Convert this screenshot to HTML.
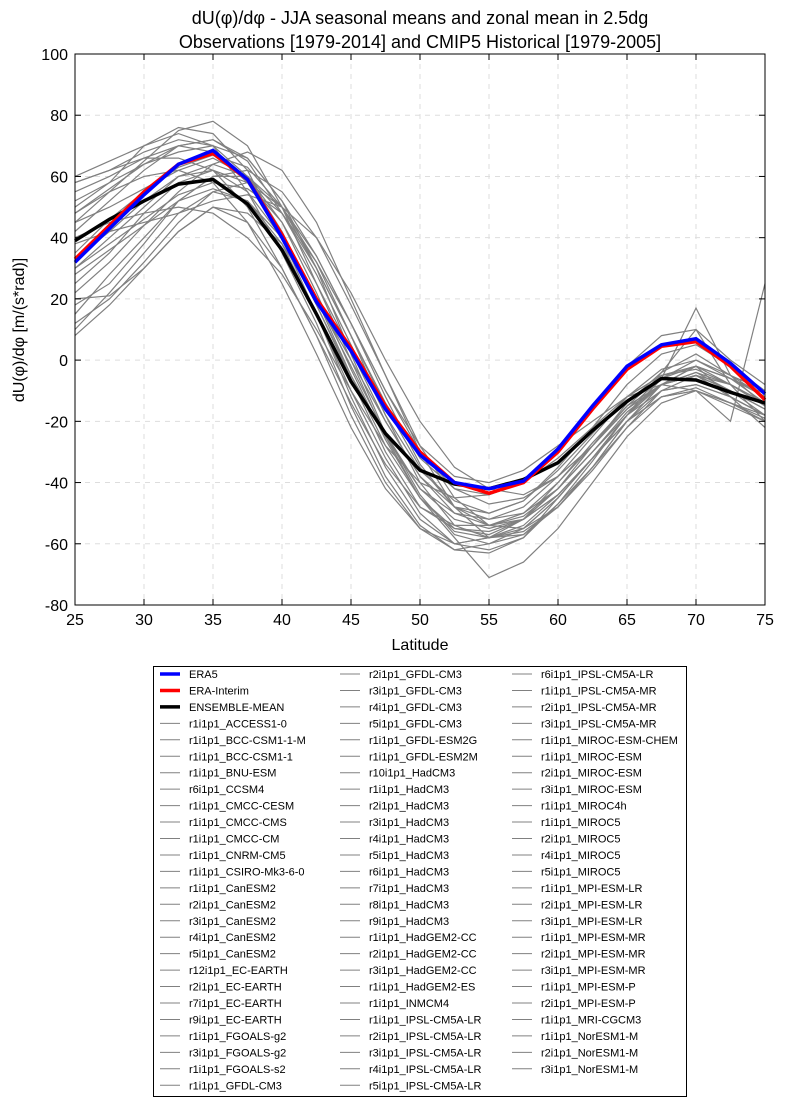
<!DOCTYPE html>
<html><head><meta charset="utf-8">
<style>
body{margin:0;background:#fff;font-family:"Liberation Sans","DejaVu Sans",sans-serif;}
</style></head>
<body>
<svg id="chart" width="785" height="1107" xmlns="http://www.w3.org/2000/svg" font-family="Liberation Sans, DejaVu Sans, sans-serif"></svg>
<script>
const lats=[25,27.5,30,32.5,35,37.5,40,42.5,45,47.5,50,52.5,55,57.5,60,62.5,65,67.5,70,72.5,75];
const era5=[32,43,54,64,68.5,59,40,19,3,-16,-31,-40,-42,-39.5,-29,-15,-2,5,7,-1,-11];
const eraInterim=[33,44,55,64,67.5,59,41,20,4,-15,-30,-40,-43.5,-40,-30,-16,-3,4.5,6,-2,-13];
const ensembleMean=[39,46,52,57.5,59,51,36,15,-7,-24,-36,-40.5,-42,-39,-33.5,-23,-13.5,-6,-6.5,-10.5,-14];
const models=[
[45,55,65,75,78,70,50,25,0,-25,-45,-55,-57,-52,-40,-28,-15,-8,-5,-12,-18],
[10,22,35,48,55,52,38,15,-10,-32,-50,-60,-62,-58,-45,-32,-20,-12,-10,-15,-20],
[58,62,68,72,70,60,42,20,-5,-28,-45,-56,-58,-55,-45,-32,-18,-8,-5,-10,-16],
[30,40,50,60,62,55,40,18,-5,-25,-42,-50,-52,-48,-38,-25,-12,-5,-3,-8,-14],
[20,21,30,42,50,48,38,20,0,-20,-38,-48,-50,-46,-36,-24,-12,-3,0,-5,-10],
[50,58,70,76,74,62,40,15,-12,-35,-52,-60,-58,-52,-42,-30,-18,-10,-8,-12,-18],
[40,45,48,50,48,40,28,10,-10,-28,-40,-45,-44,-40,-32,-22,-12,-5,-2,-6,-12],
[8,18,30,42,50,45,30,8,-18,-40,-55,-62,-63,-58,-47,-35,-22,-12,-9,-14,-19],
[55,60,66,70,68,58,40,18,-6,-30,-48,-55,-56,-52,-42,-28,-14,-4,2,-5,-12],
[35,46,55,63,67,63,50,30,8,-15,-35,-48,-52,-50,-40,-27,-15,-5,-2,-8,-15],
[25,35,48,58,62,58,45,25,3,-20,-38,-50,-54,-51,-42,-30,-17,-8,-5,-10,-16],
[48,55,60,62,58,45,25,2,-22,-42,-55,-60,-58,-54,-44,-32,-20,-10,-8,-12,-18],
[15,28,40,52,60,62,55,40,18,-5,-28,-45,-54,-55,-48,-36,-22,-10,-5,-8,-14],
[42,52,62,70,72,65,48,28,5,-18,-36,-46,-50,-46,-35,-22,-8,2,5,-2,-10],
[30,38,46,54,58,56,48,32,12,-10,-30,-42,-47,-45,-38,-28,-16,-8,-4,-8,-14],
[60,65,70,74,70,55,35,12,-15,-38,-54,-62,-60,-55,-45,-32,-18,-6,0,-6,-14],
[22,32,44,55,64,68,62,45,20,-5,-30,-48,-58,-57,-48,-35,-20,-8,-2,-6,-12],
[38,42,45,48,52,54,50,40,22,0,-20,-35,-42,-44,-38,-28,-16,-6,-2,-6,-11],
[52,58,64,68,70,66,52,30,2,-24,-44,-57,-60,-57,-47,-33,-18,-4,10,-8,-20],
[12,20,32,45,55,58,50,32,8,-18,-40,-54,-58,-56,-48,-35,-20,-8,-4,-10,-18],
[45,50,56,62,66,60,45,22,-3,-26,-45,-58,-71,-66,-55,-40,-25,-14,-10,-14,-20],
[33,42,52,60,64,60,48,30,8,-14,-32,-42,-44,-40,-30,-16,-2,8,10,0,-8],
[48,56,64,70,72,66,52,34,12,-10,-28,-38,-40,-36,-28,-20,-12,-8,-10,-20,25],
[28,36,44,52,56,52,40,20,-2,-24,-42,-52,-55,-52,-44,-32,-20,-12,-10,-14,-18],
[58,62,66,66,62,50,30,8,-14,-34,-48,-54,-54,-50,-42,-30,-18,-8,-2,-12,-22],
[18,25,38,52,60,60,50,34,12,-12,-34,-48,-54,-52,-44,-32,-18,-6,17,-5,-15]
];
const xTicks=[25,30,35,40,45,50,55,60,65,70,75];
const yTicks=[-80,-60,-40,-20,0,20,40,60,80,100];
const legendCol1=["ERA5","ERA-Interim","ENSEMBLE-MEAN","r1i1p1_ACCESS1-0","r1i1p1_BCC-CSM1-1-M","r1i1p1_BCC-CSM1-1","r1i1p1_BNU-ESM","r6i1p1_CCSM4","r1i1p1_CMCC-CESM","r1i1p1_CMCC-CMS","r1i1p1_CMCC-CM","r1i1p1_CNRM-CM5","r1i1p1_CSIRO-Mk3-6-0","r1i1p1_CanESM2","r2i1p1_CanESM2","r3i1p1_CanESM2","r4i1p1_CanESM2","r5i1p1_CanESM2","r12i1p1_EC-EARTH","r2i1p1_EC-EARTH","r7i1p1_EC-EARTH","r9i1p1_EC-EARTH","r1i1p1_FGOALS-g2","r3i1p1_FGOALS-g2","r1i1p1_FGOALS-s2","r1i1p1_GFDL-CM3"];
const legendCol2=["r2i1p1_GFDL-CM3","r3i1p1_GFDL-CM3","r4i1p1_GFDL-CM3","r5i1p1_GFDL-CM3","r1i1p1_GFDL-ESM2G","r1i1p1_GFDL-ESM2M","r10i1p1_HadCM3","r1i1p1_HadCM3","r2i1p1_HadCM3","r3i1p1_HadCM3","r4i1p1_HadCM3","r5i1p1_HadCM3","r6i1p1_HadCM3","r7i1p1_HadCM3","r8i1p1_HadCM3","r9i1p1_HadCM3","r1i1p1_HadGEM2-CC","r2i1p1_HadGEM2-CC","r3i1p1_HadGEM2-CC","r1i1p1_HadGEM2-ES","r1i1p1_INMCM4","r1i1p1_IPSL-CM5A-LR","r2i1p1_IPSL-CM5A-LR","r3i1p1_IPSL-CM5A-LR","r4i1p1_IPSL-CM5A-LR","r5i1p1_IPSL-CM5A-LR"];
const legendCol3=["r6i1p1_IPSL-CM5A-LR","r1i1p1_IPSL-CM5A-MR","r2i1p1_IPSL-CM5A-MR","r3i1p1_IPSL-CM5A-MR","r1i1p1_MIROC-ESM-CHEM","r1i1p1_MIROC-ESM","r2i1p1_MIROC-ESM","r3i1p1_MIROC-ESM","r1i1p1_MIROC4h","r1i1p1_MIROC5","r2i1p1_MIROC5","r4i1p1_MIROC5","r5i1p1_MIROC5","r1i1p1_MPI-ESM-LR","r2i1p1_MPI-ESM-LR","r3i1p1_MPI-ESM-LR","r1i1p1_MPI-ESM-MR","r2i1p1_MPI-ESM-MR","r3i1p1_MPI-ESM-MR","r1i1p1_MPI-ESM-P","r2i1p1_MPI-ESM-P","r1i1p1_MRI-CGCM3","r1i1p1_NorESM1-M","r2i1p1_NorESM1-M","r3i1p1_NorESM1-M"];

const NS="http://www.w3.org/2000/svg";
const svg=document.getElementById('chart');
const L=75,R=765,T=54,B=605;
const xs=v=>L+(v-25)/(75-25)*(R-L);
const ys=v=>B-(v+80)/180*(B-T);
function mk(tag,attrs,parent){const e=document.createElementNS(NS,tag);for(const k in attrs)e.setAttribute(k,attrs[k]);(parent||svg).appendChild(e);return e;}
function txt(s,attrs,parent){const e=mk('text',attrs,parent);e.textContent=s;return e;}

for(const t of xTicks){const g=mk('line',{x1:xs(t),x2:xs(t),y1:T,y2:B,stroke:'#ddd','stroke-dasharray':'5,5','stroke-width':1});

}
for(const t of yTicks){const g=mk('line',{x1:L,x2:R,y1:ys(t),y2:ys(t),stroke:'#ddd','stroke-dasharray':'5,5','stroke-width':1});

}

const pts=a=>a.map((v,i)=>xs(lats[i]).toFixed(1)+','+ys(v).toFixed(1)).join(' ');
models.forEach(m=>{const p=mk('polyline',{points:pts(m),fill:'none',stroke:'#808080','stroke-width':1.2});

});
let p=mk('polyline',{points:pts(ensembleMean),fill:'none',stroke:'#000','stroke-width':3.5});


p=mk('polyline',{points:pts(eraInterim),fill:'none',stroke:'#f00','stroke-width':3.5});


p=mk('polyline',{points:pts(era5),fill:'none',stroke:'#00f','stroke-width':3.5});



const frame=mk('rect',{x:L,y:T,width:R-L,height:B-T,fill:'none',stroke:'#000','stroke-width':1});



for(const t of xTicks){mk('line',{x1:xs(t),x2:xs(t),y1:B,y2:B-6,stroke:'#000'});mk('line',{x1:xs(t),x2:xs(t),y1:T,y2:T+6,stroke:'#000'});
const l=txt(t,{x:xs(t),y:B+20,'text-anchor':'middle','font-size':16});

}
for(const t of yTicks){mk('line',{x1:L,x2:L+6,y1:ys(t),y2:ys(t),stroke:'#000'});mk('line',{x1:R,x2:R-6,y1:ys(t),y2:ys(t),stroke:'#000'});
const l=txt(t,{x:L-7,y:ys(t)+6,'text-anchor':'end','font-size':16});

}

let e=txt('dU(φ)/dφ - JJA seasonal means and zonal mean in 2.5dg',{x:420,y:24,'text-anchor':'middle','font-size':18});


e=txt('Observations [1979-2014] and CMIP5 Historical [1979-2005]',{x:420,y:48,'text-anchor':'middle','font-size':18});


e=txt('Latitude',{x:420,y:650,'text-anchor':'middle','font-size':16});


e=txt('dU(φ)/dφ [m/(s*rad)]',{x:24,y:330,'text-anchor':'middle','font-size':16,transform:'rotate(-90 24 330)'});



const lg=mk('rect',{x:153.5,y:666.5,width:533,height:430,fill:'#fff',stroke:'#000','stroke-width':1});


const cols=[[legendCol1,160],[legendCol2,340],[legendCol3,512]];
const step=16.45;
cols.forEach(([names,x0])=>{names.forEach((n,i)=>{
 const y=674+i*step;
 let c='#808080',w=1;
 if(n==='ERA5'){c='#00f';w=3.5}else if(n==='ERA-Interim'){c='#f00';w=3.5}else if(n==='ENSEMBLE-MEAN'){c='#000';w=3.5}
 mk('line',{x1:x0,x2:x0+20,y1:y,y2:y,stroke:c,'stroke-width':w});
 const t=txt(n,{x:x0+29,y:y+4,'font-size':11});
 
 
});});
</script>
</body></html>
